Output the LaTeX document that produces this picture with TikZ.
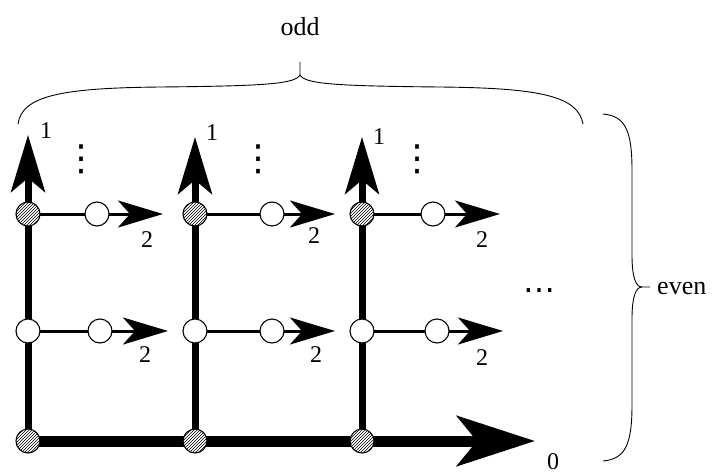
\documentclass[tikz,border=0pt]{standalone}
\usepackage{fontspec}
\setmainfont{Liberation Serif}
\newfontfamily\dotfont{DejaVu Sans}
\usetikzlibrary{arrows.meta,patterns,backgrounds}
\begin{document}
\begin{tikzpicture}[x=1pt,y=-1pt,
  hatchnode/.style={circle,draw,line width=1.1pt,minimum size=24pt,inner sep=0pt,preaction={fill=white},pattern=north east lines},
  opennode/.style={circle,draw,line width=1.1pt,fill=white,minimum size=24pt,inner sep=0pt},
  mainline/.style={line width=7pt},
  thinline/.style={line width=3pt},
  baseline/.style={line width=11pt},
  uparrow/.style={mainline,-{Stealth[length=57pt,width=34pt,inset=14pt]}},
  rarrow/.style={thinline,-{Stealth[length=45pt,width=27pt,inset=12pt]}},
  bigarrow/.style={baseline,-{Stealth[length=78pt,width=50pt,inset=20pt]}},
  lbl/.style={font=\fontsize{24}{24}\selectfont,inner sep=0pt},
  word/.style={font=\fontsize{26}{26}\selectfont,inner sep=0pt},
  dotsnode/.style={font=\dotfont\fontsize{36}{36}\selectfont,inner sep=0pt},
  brace/.style={line width=0.9pt}]
\useasboundingbox (0,0) rectangle (715,474);

% nodes
\foreach \i/\x in {1/28,2/195,3/362}{
  \node[hatchnode] (h\i) at (\x,214) {};
  \node[opennode] (m\i) at (\x,331) {};
  \node[hatchnode] (b\i) at (\x,441) {};
}
\node[opennode] (t1) at (97,214) {};
\node[opennode] (t2) at (272,214) {};
\node[opennode] (t3) at (433,214) {};
\node[opennode] (s1) at (100,331) {};
\node[opennode] (s2) at (272,331) {};
\node[opennode] (s3) at (437,331) {};

\coordinate (u1) at (28,135);
\coordinate (u2) at (195,137);
\coordinate (u3) at (362,137);
\coordinate (r1) at (163,214);
\coordinate (r2) at (335,214);
\coordinate (r3) at (500,214);
\coordinate (q1) at (168,331);
\coordinate (q2) at (335,331);
\coordinate (q3) at (503,331);
\coordinate (z) at (535,441);

\begin{scope}[on background layer]
  \foreach \i in {1,2,3}{
    \draw[mainline] (b\i.center) -- (m\i.center) -- (h\i.center);
    \draw[uparrow] (h\i.center) -- (u\i);
    \draw[thinline] (h\i.center) -- (t\i.center);
    \draw[rarrow] (t\i.center) -- (r\i);
    \draw[thinline] (m\i.center) -- (s\i.center);
    \draw[rarrow] (s\i.center) -- (q\i);
  }
  \draw[baseline] (b1.center) -- (b2.center) -- (b3.center);
  \draw[bigarrow] (b3.center) -- (z);
\end{scope}

% labels
\node[lbl] (l1a) at (46,131) {1};
\node[lbl] (l1b) at (212,133) {1};
\node[lbl] (l1c) at (379,137) {1};
\node[lbl] (l2a) at (147,240) {2};
\node[lbl] (l2b) at (314,236) {2};
\node[lbl] (l2c) at (482,240) {2};
\node[lbl] (l2d) at (145,355) {2};
\node[lbl] (l2e) at (316,355) {2};
\node[lbl] (l2f) at (482,358) {2};
\node[lbl] (l0) at (553,462) {0};

% dots
\foreach \x [count=\k] in {81,258,417}{
  \node[dotsnode] (vd\k) at (\x,159) {⋮};
}
\node[dotsnode,font=\dotfont\fontsize{32}{32}\selectfont] (hd) at (539,295) {⋯};

% braces
\draw[brace] (18,124) .. controls (22,96) and (60,88) .. (160,87)
  .. controls (265,86) and (295,84) .. (300,75) -- (300,62);
\draw[brace] (300,75) .. controls (305,84) and (335,86) .. (440,87)
  .. controls (540,88) and (578,96) .. (583,124);
\node[word] (odd) at (300,27) {odd};

\draw[brace] (603,114) .. controls (625,116) and (632,130) .. (632,170)
  -- (632,255) .. controls (632,278) and (636,287) .. (642,287) -- (650,287);
\draw[brace] (642,287) .. controls (636,287) and (632,296) .. (632,319)
  -- (632,405) .. controls (632,445) and (625,459) .. (603,461);
\node[word,anchor=west] (even) at (657,288) {even};
\end{tikzpicture}
\end{document}
